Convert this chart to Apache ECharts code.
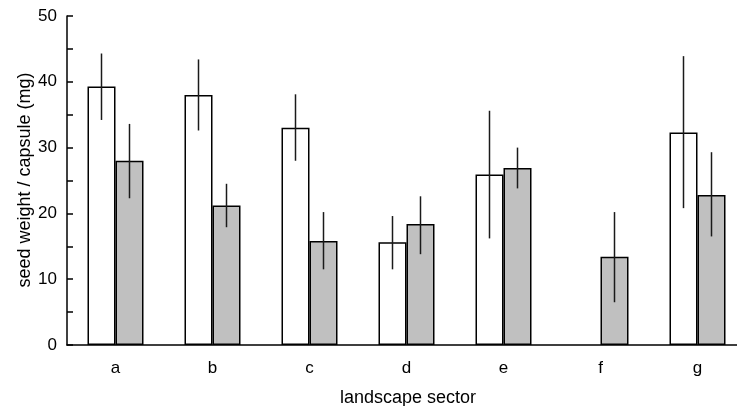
<!DOCTYPE html>
<html>
<head>
<meta charset="utf-8">
<script src="https://cdn.jsdelivr.net/npm/echarts@6/dist/echarts.min.js"></script>
<style>html,body{margin:0;padding:0;background:#fff}#c{width:737px;height:406px}</style>
</head>
<body>
<div id="c"></div>
<script>
var categories = ['a', 'b', 'c', 'd', 'e', 'f', 'g'];
var whiteMean = [39.3, 38.0, 33.0, 15.6, 25.9, null, 32.3];
var whiteLow  = [34.2, 32.6, 28.0, 11.5, 16.2, null, 20.8];
var whiteHigh = [44.3, 43.4, 38.1, 19.6, 35.6, null, 43.9];
var grayMean  = [28.0, 21.2, 15.8, 18.4, 26.9, 13.4, 22.8];
var grayLow   = [22.3, 17.9, 11.5, 13.8, 23.8, 6.5, 16.5];
var grayHigh  = [33.6, 24.5, 20.2, 22.6, 30.0, 20.2, 29.3];
var yTicks = [0, 10, 20, 30, 40, 50];
var xTitle = 'landscape sector';
var yTitle = 'seed weight / capsule (mg)';

var BAR_W = 28;
var FONT = 'Liberation Sans, Arial, sans-serif';

function errData(low, high) {
  var out = [];
  for (var i = 0; i < categories.length; i++) {
    if (low[i] == null) continue;
    out.push([i, low[i], high[i]]);
  }
  return out;
}
function errSeries(low, high, offset) {
  return {
    type: 'custom',
    z: 10,
    data: errData(low, high),
    encode: { x: 0, y: [1, 2] },
    renderItem: function (params, api) {
      var p1 = api.coord([api.value(0), api.value(1)]);
      var p2 = api.coord([api.value(0), api.value(2)]);
      var x = p1[0] + offset;
      return {
        type: 'line',
        shape: { x1: x, y1: p1[1], x2: x, y2: p2[1] },
        style: { stroke: '#1a1a1a', lineWidth: 1.5 }
      };
    }
  };
}

var chart = echarts.init(document.getElementById('c'));
chart.setOption({
  animation: false,
  backgroundColor: '#ffffff',
  grid: { left: 67, top: 16, width: 679, height: 329, containLabel: false, outerBoundsMode: 'none' },
  graphic: [
    {
      type: 'text', x: 408, y: 398.5,
      style: { text: xTitle, font: '18px ' + FONT, fill: '#000', align: 'center', verticalAlign: 'middle' }
    },
    {
      type: 'text', x: 25, y: 180, rotation: Math.PI / 2,
      style: { text: yTitle, font: '18px ' + FONT, fill: '#000', align: 'center', verticalAlign: 'middle' }
    }
  ],
  xAxis: {
    type: 'category',
    data: categories,
    axisLine: { lineStyle: { color: '#000', width: 1.5 } },
    axisTick: { show: false },
    axisLabel: { fontFamily: FONT, fontSize: 17, color: '#000', margin: 15 },
    splitLine: { show: false }
  },
  yAxis: {
    type: 'value',
    min: 0,
    max: 50,
    interval: 5,
    axisLine: { show: true, lineStyle: { color: '#000', width: 1.5 } },
    axisTick: { show: true, inside: true, length: 6, lineStyle: { color: '#000', width: 1.5 } },
    axisLabel: {
      fontFamily: FONT, fontSize: 17, color: '#000', margin: 10,
      formatter: function (v) { return yTicks.indexOf(v) >= 0 ? String(v) : ''; }
    },
    splitLine: { show: false }
  },
  series: [
    {
      type: 'bar',
      data: whiteMean.map(function (v) { return v == null ? '-' : v; }),
      barWidth: BAR_W,
      barGap: '0%',
      itemStyle: { color: '#ffffff', borderColor: '#000', borderWidth: 1.5 }
    },
    {
      type: 'bar',
      data: grayMean,
      barWidth: BAR_W,
      barGap: '0%',
      itemStyle: { color: '#c0c0c0', borderColor: '#000', borderWidth: 1.5 }
    },
    errSeries(whiteLow, whiteHigh, -BAR_W / 2),
    errSeries(grayLow, grayHigh, BAR_W / 2)
  ]
});
</script>
</body>
</html>
